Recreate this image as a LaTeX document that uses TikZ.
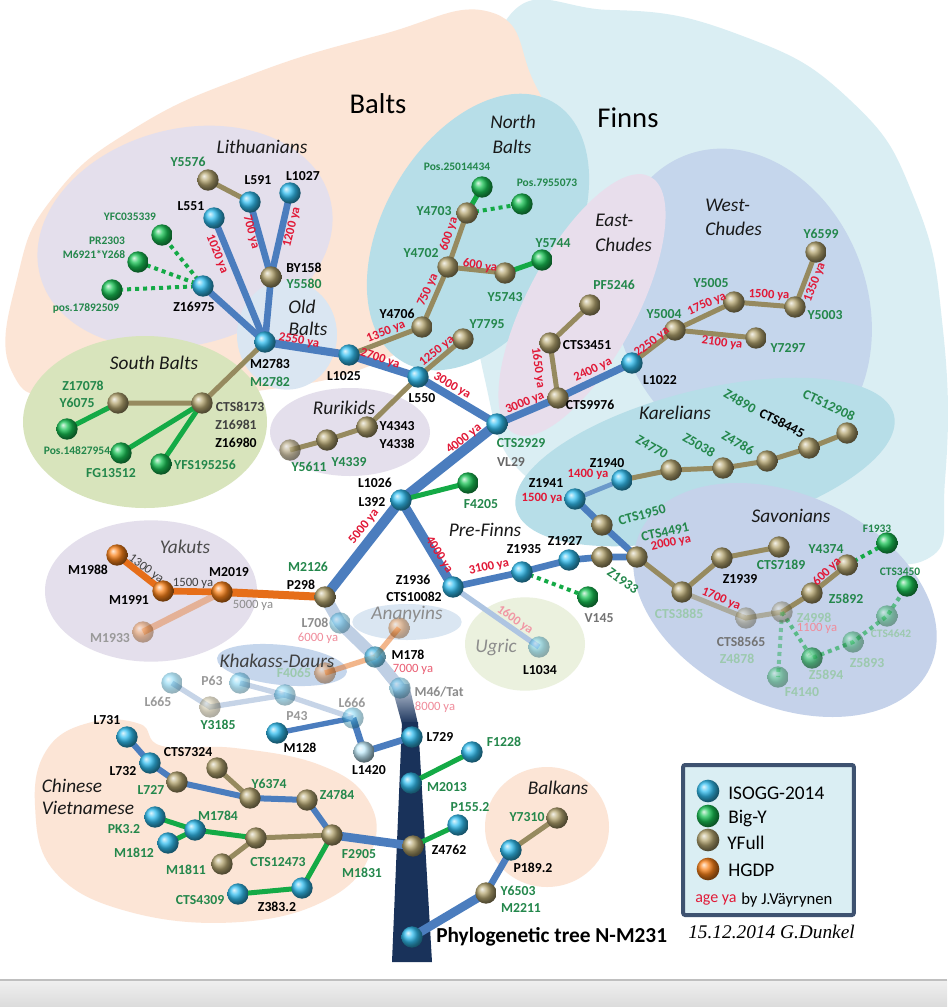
\documentclass[tikz,border=0pt]{standalone}
\usepackage{fontspec}
\setmainfont{Carlito}
\newfontfamily\sigfont{Liberation Serif}
\pgfdeclarelayer{blobs}
\pgfdeclarelayer{edges}
\pgfsetlayers{blobs,edges,main}
\definecolor{isoggc}{RGB}{50,190,240}
\definecolor{bigyc}{RGB}{25,195,85}
\definecolor{yfullc}{RGB}{180,165,112}
\definecolor{hgdpc}{RGB}{250,130,25}
\definecolor{brblue}{RGB}{75,125,190}
\definecolor{olivel}{RGB}{150,138,95}
\definecolor{greenl}{RGB}{20,170,70}
\definecolor{orangel}{RGB}{230,110,25}
\definecolor{labgreen}{RGB}{35,135,75}
\definecolor{agered}{RGB}{225,25,55}
\definecolor{trunkc}{RGB}{25,50,90}
\definecolor{trunklight}{RGB}{195,205,220}
\definecolor{paleblue}{RGB}{175,195,222}
\definecolor{peachc}{RGB}{252,229,214}
\definecolor{finnsc}{RGB}{218,238,243}
\definecolor{lavc}{RGB}{228,223,236}
\definecolor{tealc}{RGB}{183,222,232}
\definecolor{pinkc}{RGB}{232,222,236}
\definecolor{wchc}{RGB}{197,214,236}
\definecolor{savc}{RGB}{197,210,234}
\definecolor{sbaltc}{RGB}{216,228,188}
\definecolor{oldbc}{RGB}{218,230,242}
\definecolor{ugricc}{RGB}{235,241,222}
\definecolor{legborder}{RGB}{62,82,112}
\definecolor{legfill}{RGB}{218,238,243}
\begin{document}
\begin{tikzpicture}[x=0.75pt,y=-0.75pt,
  ball/.style={circle,minimum size=16pt,inner sep=0pt},
  isogg/.style={ball,ball color=isoggc},
  bigy/.style={ball,ball color=bigyc},
  yfull/.style={ball,ball color=yfullc},
  hgdp/.style={ball,ball color=hgdpc},
  faded/.style={opacity=0.45},
  semi/.style={opacity=0.7},
  eblue/.style={draw=brblue,line width=5pt},
  ebluethick/.style={draw=brblue,line width=7pt},
  ebluethin/.style={draw=brblue,line width=3.5pt},
  eolive/.style={draw=olivel,line width=3.75pt},
  egreen/.style={draw=greenl,line width=3.75pt},
  edot/.style={draw=greenl,line width=3pt,dash pattern=on 3pt off 3pt},
  eorange/.style={draw=orangel,line width=5pt},
  lab/.style={font=\fontsize{10.3}{12}\selectfont\bfseries,text=black,inner sep=0pt},
  glab/.style={lab,text=labgreen},
  slab/.style={font=\fontsize{8.6}{10}\selectfont\bfseries,text=labgreen,inner sep=0pt},
  fglab/.style={lab,text=labgreen!45},
  agelab/.style={font=\fontsize{9.5}{11}\selectfont\bfseries,text=agered,inner sep=0pt},
  fagelab/.style={font=\fontsize{9.5}{11}\selectfont,text=agered!50,inner sep=0pt},
  grp/.style={font=\fontsize{14.5}{17}\selectfont\itshape,text=black!90,inner sep=0pt},
  bigtxt/.style={font=\fontsize{21.5}{24}\selectfont,text=black,inner sep=0pt},
  legtext/.style={font=\fontsize{14.5}{17}\selectfont,anchor=west,inner sep=0pt},
]
\useasboundingbox (0,0) rectangle (947,1007);

% ---------------- background regions
\begin{pgfonlayer}{blobs}
\fill[white] (0,0) rectangle (947,1007);
\fill[finnsc] plot[smooth cycle,tension=0.8] coordinates {(500,30) (610,10) (740,35) (850,100) (915,200) (943,330) (945,480) (925,560) (820,540) (640,510) (530,480) (485,380) (478,250)};
\fill[peachc] plot[smooth cycle,tension=0.8] coordinates {(12,372) (18,275) (55,195) (135,128) (250,75) (380,35) (490,12) (532,78) (552,150) (520,260) (400,352) (250,392) (80,398)};
\fill[lavc,rotate around={15:(185,237)}] (185,237) ellipse [x radius=112.5pt,y radius=81pt];
\fill[oldbc] (287,335) ellipse [x radius=37.5pt,y radius=41pt];
\fill[sbaltc] (145,422) ellipse [x radius=91.5pt,y radius=64.5pt];
\fill[tealc,rotate around={60:(478,232)}] (478,232) ellipse [x radius=112.5pt,y radius=71pt];
\fill[wchc,rotate around={20:(742,305)}] (742,305) ellipse [x radius=94pt,y radius=120pt];
\fill[pinkc,rotate around={62:(582,305)}] (582,305) ellipse [x radius=109pt,y radius=41pt];
\fill[tealc,rotate around={14:(705,462)}] (705,462) ellipse [x radius=146pt,y radius=54pt];
\fill[savc,rotate around={-25:(785,600)}] (785,600) ellipse [x radius=120pt,y radius=79pt];
\fill[lavc] (350,432) ellipse [x radius=60pt,y radius=33pt];
\fill[lavc] (151,591) ellipse [x radius=79.5pt,y radius=53pt];
\fill[ugricc] (525,644) ellipse [x radius=45pt,y radius=35pt];
\fill[oldbc] (407,622) ellipse [x radius=41pt,y radius=13.5pt];
\fill[wchc,rotate around={-6:(282,665)}] (282,665) ellipse [x radius=49pt,y radius=15pt];
\fill[peachc] (547,827) ellipse [x radius=46.5pt,y radius=45pt];
\fill[peachc] plot[smooth cycle,tension=0.7] coordinates {(35,805) (48,748) (92,722) (140,724) (162,746) (235,748) (320,765) (368,800) (372,850) (330,898) (240,922) (130,912) (55,872)};
\shade[top color=black!6,bottom color=black!14] (0,980) rectangle (947,1007);
\draw[black!25,line width=1pt] (0,980) -- (947,980);
\end{pgfonlayer}

% ---------------- nodes (balls)
% Lithuanians
\node[yfull] (Y5576) at (208,180) {};
\node[isogg] (L591) at (250,202) {};
\node[isogg] (L1027) at (290,193) {};
\node[isogg] (L551) at (214,218) {};
\node[yfull] (BY158) at (271,277) {};
\node[bigy] (YFC) at (162,235) {};
\node[bigy] (PR2303) at (138,262) {};
\node[bigy] (pos17) at (112,290) {};
\node[isogg] (Z16975) at (203,286) {};
\node[isogg] (M2783) at (265,342) {};
% South Balts
\node[yfull] (CTS8173) at (202,403) {};
\node[yfull] (Z17078) at (118,403) {};
\node[bigy] (Pos148) at (67,429) {};
\node[bigy] (FG13512) at (121,453) {};
\node[bigy] (YFS) at (161,464) {};
% North Balts / Rurikids
\node[isogg] (L1025) at (349,355) {};
\node[isogg] (L550) at (418,377) {};
\node[yfull] (Y4706) at (422,327) {};
\node[yfull] (Y4702) at (448,267) {};
\node[yfull] (Y4703) at (467,213) {};
\node[bigy] (Pos250) at (482,187) {};
\node[bigy] (Pos795) at (522,204) {};
\node[yfull] (Y5743) at (505,273) {};
\node[bigy] (Y5744) at (542,260) {};
\node[yfull] (Y7795) at (463,339) {};
\node[yfull] (Y4343) at (367,427) {};
\node[yfull] (Y4339) at (327,440) {};
\node[yfull,semi] (Y5611) at (290,450) {};
% Finns
\node[isogg] (CTS2929) at (497,424) {};
\node[yfull] (CTS9976) at (558,398) {};
\node[yfull] (CTS3451) at (550,343) {};
\node[yfull] (PF5246) at (590,305) {};
\node[isogg] (L1022) at (632,363) {};
\node[yfull] (Y5004) at (675,330) {};
\node[yfull] (Y5005) at (734,302) {};
\node[yfull] (Y5003) at (795,307) {};
\node[yfull] (Y6599) at (816,252) {};
\node[yfull] (Y7297) at (756,338) {};
\node[isogg] (L392) at (401,500) {};
\node[bigy] (F4205) at (468,483) {};
\node[yfull] (P298) at (325,597) {};
\node[isogg] (Z1936) at (453,587) {};
\node[isogg] (Z1935) at (522,572) {};
\node[isogg] (Z1927) at (569,560) {};
\node[bigy] (V145) at (588,597) {};
\node[isogg,faded] (L1034) at (539,647) {};
\node[yfull] (Z1933) at (602,557) {};
\node[yfull] (CTS4491) at (637,557) {};
\node[yfull] (CTS1950) at (602,525) {};
\node[isogg] (Z1941) at (575,499) {};
\node[isogg] (Z1940) at (622,480) {};
\node[yfull] (Z4770) at (671,470) {};
\node[yfull] (Z5038) at (723,468) {};
\node[yfull] (Z4786) at (767,461) {};
\node[yfull] (CTS8445) at (809,448) {};
\node[yfull] (CTS12908) at (847,433) {};
\node[yfull] (CTS3885) at (682,592) {};
\node[yfull] (Z1939) at (722,558) {};
\node[yfull] (CTS7189) at (779,547) {};
\node[yfull,faded] (CTS8565) at (746,618) {};
\node[yfull,faded] (Z4998) at (782,612) {};
\node[yfull] (Z5892) at (812,593) {};
\node[yfull] (Y4374) at (847,565) {};
\node[bigy] (F1933) at (887,543) {};
\node[bigy,faded] (F4140) at (778,677) {};
\node[bigy,semi] (Z5894) at (812,658) {};
\node[bigy,faded] (Z5893) at (853,642) {};
\node[bigy,faded] (CTS4642) at (887,616) {};
\node[bigy] (CTS3450) at (907,586) {};
% Yakuts
\node[hgdp] (M2019) at (222,592) {};
\node[hgdp] (M1991) at (163,591) {};
\node[hgdp] (M1988) at (117,555) {};
\node[hgdp,faded] (M1933) at (143,632) {};
% lower tree
\node[isogg,faded] (L708) at (340,623) {};
\node[isogg,semi] (M178) at (375,657) {};
\node[isogg,faded] (M46) at (400,688) {};
\node[hgdp,faded] (Anan) at (399,628) {};
\node[hgdp,faded] (F4065) at (325,673) {};
\node[isogg] (L729) at (412,737) {};
\node[isogg] (M2013) at (411,783) {};
\node[isogg] (F1228) at (472,752) {};
\node[yfull] (Z4762) at (413,846) {};
\node[isogg] (P155) at (458,825) {};
\node[isogg] (root) at (412,937) {};
\node[yfull] (Y6503) at (486,893) {};
\node[isogg] (P189) at (511,850) {};
\node[yfull] (Y7310) at (557,818) {};
\node[isogg,faded] (L666) at (353,718) {};
\node[ball,ball color=isoggc!30] (L1420) at (364,752) {};
\node[isogg,faded] (P43) at (285,695) {};
\node[isogg,faded] (P63) at (240,683) {};
\node[isogg,faded] (L665) at (172,683) {};
\node[yfull,faded] (Y3185) at (210,707) {};
\node[isogg] (M128) at (277,733) {};
% Chinese / Vietnamese
\node[isogg] (L731) at (127,737) {};
\node[isogg] (L732) at (150,763) {};
\node[yfull] (L727) at (177,782) {};
\node[yfull] (CTS7324) at (217,768) {};
\node[yfull] (Y6374) at (250,798) {};
\node[yfull] (Z4784) at (307,800) {};
\node[yfull] (F2905) at (332,835) {};
\node[yfull] (CTS12473) at (256,838) {};
\node[yfull] (M1811) at (222,864) {};
\node[isogg] (M1784) at (195,830) {};
\node[isogg] (PK32) at (155,817) {};
\node[isogg] (M1812) at (168,843) {};
\node[isogg] (CTS4309) at (238,894) {};
\node[isogg] (Z3832) at (302,888) {};

% ---------------- connectors
\begin{pgfonlayer}{edges}
% trunk
\shade[top color=trunklight,bottom color=trunkc] (391,684) -- (409,684) -- (418,724) -- (402,724) -- cycle;
\fill[trunkc] (402,722) -- (418,722) -- (432,962) -- (392,962) -- cycle;
\draw[line width=9pt,draw=paleblue,opacity=0.8] (P298.center) -- (L708.center) -- (M178.center) -- (M46.center);
% Lithuanians
\draw[eolive] (Y5576.center) -- (L591.center);
\draw[eblue] (L591.center) -- (BY158.center) -- (M2783.center);
\draw[eblue] (L1027.center) -- (BY158.center);
\draw[eblue] (L551.center) -- (M2783.center);
\draw[eblue] (Z16975.center) -- (M2783.center);
\draw[edot] (Z16975.center) -- (YFC.center);
\draw[edot] (Z16975.center) -- (PR2303.center);
\draw[edot] (Z16975.center) -- (pos17.center);
% South Balts
\draw[eolive] (M2783.center) -- (CTS8173.center) -- (Z17078.center);
\draw[egreen] (Z17078.center) -- (Pos148.center);
\draw[egreen] (CTS8173.center) -- (FG13512.center);
\draw[egreen] (CTS8173.center) -- (YFS.center);
% main Baltic branch
\draw[eblue,line width=6pt] (M2783.center) -- (L1025.center) -- (L550.center) -- (CTS2929.center);
\draw[eolive] (L1025.center) -- (Y4706.center) -- (Y4702.center) -- (Y4703.center);
\draw[egreen] (Y4703.center) -- (Pos250.center);
\draw[edot] (Y4703.center) -- (Pos795.center);
\draw[eolive] (Y4702.center) -- (Y5743.center);
\draw[egreen] (Y5743.center) -- (Y5744.center);
\draw[eolive] (L550.center) -- (Y7795.center);
\draw[eolive] (L550.center) -- (Y4343.center) -- (Y4339.center) -- (Y5611.center);
% Finnic upper
\draw[eblue,line width=5.5pt] (CTS2929.center) -- (CTS9976.center) -- (L1022.center);
\draw[eolive] (CTS9976.center) -- (CTS3451.center) -- (PF5246.center);
\draw[eolive] (L1022.center) -- (Y5004.center) -- (Y5005.center) -- (Y5003.center) -- (Y6599.center);
\draw[eolive] (Y5004.center) -- (Y7297.center);
% central trunk
\draw[eblue,line width=7.5pt] (CTS2929.center) -- (L392.center) -- (P298.center);
\draw[ebluethick] (L392.center) -- (Z1936.center);
\draw[egreen] (L392.center) -- (F4205.center);
\draw[eblue] (Z1936.center) -- (Z1935.center) -- (Z1927.center) -- (Z1933.center) -- (CTS4491.center);
\draw[eblue] (CTS4491.center) -- (CTS1950.center) -- (Z1941.center);
\draw[ebluethin,opacity=0.7] (Z1941.center) -- (Z1940.center);
\draw[draw=brblue!45,line width=4pt] (Z1936.center) -- (L1034.center);
\draw[edot] (Z1935.center) -- (V145.center);
\draw[eolive] (Z1940.center) -- (Z4770.center) -- (Z5038.center) -- (Z4786.center) -- (CTS8445.center) -- (CTS12908.center);
\draw[eolive] (CTS4491.center) -- (CTS3885.center) -- (Z1939.center) -- (CTS7189.center);
\draw[eolive,opacity=0.55] (CTS3885.center) -- (CTS8565.center) -- (Z4998.center);
\draw[eolive] (Z4998.center) -- (Z5892.center) -- (Y4374.center);
\draw[edot] (Y4374.center) -- (F1933.center);
\draw[edot,opacity=0.45] (Z4998.center) -- (F4140.center);
\draw[edot,opacity=0.6] (Z4998.center) -- (Z5894.center) -- (Z5893.center) -- (CTS4642.center) -- (CTS3450.center);
% Yakuts
\draw[eorange,line width=6pt] (P298.center) -- (M2019.center);
\draw[eorange] (M2019.center) -- (M1991.center) -- (M1988.center);
\draw[eorange,opacity=0.4] (M2019.center) -- (M1933.center);
\draw[eorange,line width=4pt,opacity=0.5] (M178.center) -- (Anan.center);
\draw[eorange,line width=4pt,opacity=0.5] (M178.center) -- (F4065.center);
% lower branches
\draw[egreen] (M2013.center) -- (F1228.center);
\draw[egreen] (Z4762.center) -- (P155.center);
\draw[eblue,line width=6.5pt] (F2905.center) -- (Z4762.center);
\draw[eblue,line width=6.5pt] (root.center) -- (Y6503.center);
\draw[eblue] (Y6503.center) -- (P189.center);
\draw[eolive] (P189.center) -- (Y7310.center);
\draw[eblue] (L729.center) -- (L1420.center) -- (L666.center);
\draw[eblue,line width=4pt] (L666.center) -- (M128.center);
\draw[draw=paleblue,line width=4pt,opacity=0.7] (L666.center) -- (P43.center) -- (P63.center);
\draw[draw=paleblue,line width=4pt,opacity=0.7] (P43.center) -- (Y3185.center) -- (L665.center);
% Chinese / Vietnamese
\draw[eblue,line width=4.5pt] (L731.center) -- (L732.center) -- (L727.center) -- (Y6374.center) -- (Z4784.center) -- (F2905.center);
\draw[eolive] (CTS7324.center) -- (Y6374.center);
\draw[eolive] (F2905.center) -- (CTS12473.center) -- (M1811.center);
\draw[egreen] (PK32.center) -- (M1784.center) -- (CTS12473.center);
\draw[egreen] (M1812.center) -- (M1784.center);
\draw[egreen] (F2905.center) -- (Z3832.center) -- (CTS4309.center);
\end{pgfonlayer}

% ---------------- region titles
\node[bigtxt] (gBalts) at (378,104) {Balts};
\node[bigtxt] (gFinns) at (628,118) {Finns};
\node[grp] (gLith) at (262,147) {Lithuanians};
\node[grp] (gOld) at (302,307) {Old};
\node[grp] (gOldB) at (308,329) {Balts};
\node[grp] (gSB) at (154,363) {South Balts};
\node[grp] (gNB1) at (513,122) {North};
\node[grp] (gNB2) at (512,147) {Balts};
\node[grp,anchor=west] (gEC1) at (595,220) {East-};
\node[grp,anchor=west] (gEC2) at (595,245) {Chudes};
\node[grp,anchor=west] (gWC1) at (705,205) {West-};
\node[grp,anchor=west] (gWC2) at (705,229) {Chudes};
\node[grp] (gRur) at (344,408) {Rurikids};
\node[grp] (gKar) at (675,413) {Karelians};
\node[grp] (gSav) at (791,516) {Savonians};
\node[grp] (gPF) at (485,530) {Pre-Finns};
\node[grp,text=black!45] (gUg) at (496,647) {Ugric};
\node[grp,text=black!70] (gYak) at (185,547) {Yakuts};
\node[grp,text=black!45] (gAn) at (407,614) {Ananyins};
\node[grp,text=black!75] (gKD) at (277,661) {Khakass-Daurs};
\node[grp] (gCh1) at (72,786) {Chinese};
\node[grp] (gCh2) at (88,808) {Vietnamese};
\node[grp] (gBalk) at (558,788) {Balkans};

% ---------------- marker labels
\node[glab] (tY5576) at (188,162) {Y5576};
\node[lab] (tL591) at (258,180) {L591};
\node[lab] (tL1027) at (303,176) {L1027};
\node[lab] (tL551) at (191,206) {L551};
\node[slab] (tYFC) at (130,217) {YFC035339};
\node[slab] (tPR) at (107,241) {PR2303};
\node[slab] (tM6921) at (94,254) {M6921*Y268};
\node[slab] (tpos17) at (86,308) {pos.17892509};
\node[lab] (tZ16975) at (194,307) {Z16975};
\node[lab] (tBY158) at (304,268) {BY158};
\node[glab] (tY5580) at (304,284) {Y5580};
\node[lab] (tM2783) at (270,364) {M2783};
\node[glab] (tM2782) at (270,382) {M2782};
\node[glab] (tZ17078) at (83,386) {Z17078};
\node[glab] (tY6075) at (77,403) {Y6075};
\node[slab] (tPos148) at (77,451) {Pos.14827954};
\node[glab] (tFG) at (111,473) {FG13512};
\node[glab] (tYFS) at (205,465) {YFS195256};
\node[lab,text=black!75] (tCTS8173) at (240,407) {CTS8173};
\node[lab,text=black!75] (tZ16981) at (236,425) {Z16981};
\node[lab] (tZ16980) at (236,443) {Z16980};
\node[lab] (tL1025) at (344,376) {L1025};
\node[lab] (tL550) at (422,398) {L550};
\node[lab] (tY4706) at (397,314) {Y4706};
\node[glab] (tY7795) at (487,324) {Y7795};
\node[lab] (tY4343) at (397,426) {Y4343};
\node[lab] (tY4338) at (397,444) {Y4338};
\node[glab] (tY4339) at (349,462) {Y4339};
\node[glab] (tY5611) at (309,467) {Y5611};
\node[slab] (tPos250) at (457,167) {Pos.25014434};
\node[slab] (tPos795) at (547,183) {Pos.7955073};
\node[glab] (tY4703) at (434,211) {Y4703};
\node[glab] (tY4702) at (421,253) {Y4702};
\node[glab] (tY5744) at (553,243) {Y5744};
\node[glab] (tY5743) at (505,297) {Y5743};
\node[glab] (tPF5246) at (614,285) {PF5246};
\node[glab] (tCTS2929) at (521,443) {CTS2929};
\node[lab,text=black!60] (tVL29) at (511,462) {VL29};
\node[lab] (tCTS3451) at (587,345) {CTS3451};
\node[lab] (tCTS9976) at (590,405) {CTS9976};
\node[lab] (tL1022) at (660,380) {L1022};
\node[glab] (tY5004) at (664,314) {Y5004};
\node[glab] (tY5005) at (711,283) {Y5005};
\node[glab] (tY6599) at (821,234) {Y6599};
\node[glab] (tY5003) at (825,315) {Y5003};
\node[glab] (tY7297) at (788,348) {Y7297};
\node[lab] (tL1026) at (375,483) {L1026};
\node[lab] (tL392) at (372,502) {L392};
\node[glab] (tF4205) at (481,504) {F4205};
\node[lab] (tZ1940) at (607,463) {Z1940};
\node[lab] (tZ1941) at (546,483) {Z1941};
\node[glab,rotate=15] (tCTS1950) at (642,515) {CTS1950};
\node[glab,rotate=-30] (tZ4770) at (652,447) {Z4770};
\node[glab,rotate=-30] (tZ5038) at (699,445) {Z5038};
\node[glab,rotate=-30] (tZ4786) at (738,443) {Z4786};
\node[glab,rotate=-30] (tZ4890) at (740,401) {Z4890};
\node[lab,rotate=-27] (tCTS8445) at (782,423) {CTS8445};
\node[glab,rotate=-25] (tCTS12908) at (829,405) {CTS12908};
\node[glab,rotate=-35] (tZ1933) at (623,581) {Z1933};
\node[glab,rotate=12] (tCTS4491) at (665,532) {CTS4491};
\node[lab] (tZ1939) at (740,579) {Z1939};
\node[glab] (tCTS7189) at (781,565) {CTS7189};
\node[glab] (tY4374) at (826,549) {Y4374};
\node[slab] (tF1933) at (877,529) {F1933};
\node[slab] (tCTS3450) at (900,572) {CTS3450};
\node[glab] (tZ5892) at (846,599) {Z5892};
\node[fglab] (tCTS3885) at (679,614) {CTS3885};
\node[lab,text=black!55] (tCTS8565) at (741,642) {CTS8565};
\node[fglab] (tZ4878) at (737,659) {Z4878};
\node[fglab] (tZ4998) at (814,618) {Z4998};
\node[slab,text=labgreen!45] (tCTS4642) at (891,634) {CTS4642};
\node[fglab] (tZ5893) at (867,663) {Z5893};
\node[fglab] (tZ5894) at (826,675) {Z5894};
\node[fglab] (tF4140) at (802,692) {F4140};
\node[lab] (tZ1935) at (524,549) {Z1935};
\node[lab] (tZ1927) at (565,541) {Z1927};
\node[lab] (tZ1936) at (413,580) {Z1936};
\node[lab] (tCTS10082) at (414,597) {CTS10082};
\node[lab,text=black!55] (tV145) at (599,618) {V145};
\node[lab] (tL1034) at (540,670) {L1034};
\node[lab] (tM1988) at (88,570) {M1988};
\node[lab] (tM1991) at (129,600) {M1991};
\node[lab] (tM2019) at (229,572) {M2019};
\node[lab,text=black!40] (tM1933) at (110,638) {M1933};
\node[glab] (tM2126) at (308,567) {M2126};
\node[lab] (tP298) at (301,585) {P298};
\node[lab,text=black!45] (tL708) at (315,623) {L708};
\node[fglab] (tF4065) at (294,673) {F4065};
\node[lab] (tM178) at (408,655) {M178};
\node[lab,text=black!45] (tM46) at (439,692) {M46/Tat};
\node[lab,text=black!40] (tP63) at (212,681) {P63};
\node[lab,text=black!40] (tL665) at (158,702) {L665};
\node[glab] (tY3185) at (218,725) {Y3185};
\node[lab,text=black!40] (tP43) at (297,716) {P43};
\node[lab] (tM128) at (300,748) {M128};
\node[lab,text=black!40] (tL666) at (352,703) {L666};
\node[lab] (tL1420) at (369,770) {L1420};
\node[lab] (tL729) at (440,737) {L729};
\node[glab] (tF1228) at (504,742) {F1228};
\node[glab] (tM2013) at (447,787) {M2013};
\node[glab] (tP155) at (470,807) {P155.2};
\node[lab] (tZ4762) at (449,850) {Z4762};
\node[glab] (tF2905) at (359,854) {F2905};
\node[glab] (tM1831) at (362,873) {M1831};
\node[glab] (tZ4784) at (337,795) {Z4784};
\node[glab] (tY7310) at (527,817) {Y7310};
\node[lab] (tP189) at (533,868) {P189.2};
\node[glab] (tY6503) at (518,891) {Y6503};
\node[glab] (tM2211) at (521,908) {M2211};
\node[lab] (tL731) at (107,720) {L731};
\node[lab] (tL732) at (123,771) {L732};
\node[lab] (tCTS7324) at (188,752) {CTS7324};
\node[glab] (tL727) at (151,790) {L727};
\node[glab] (tY6374) at (269,784) {Y6374};
\node[glab] (tM1784) at (218,816) {M1784};
\node[glab] (tPK32) at (124,829) {PK3.2};
\node[glab] (tM1812) at (134,853) {M1812};
\node[glab] (tM1811) at (186,870) {M1811};
\node[glab] (tCTS12473) at (278,862) {CTS12473};
\node[glab] (tCTS4309) at (200,900) {CTS4309};
\node[lab] (tZ3832) at (277,907) {Z383.2};

% ---------------- ages
\node[agelab,rotate=-68] (a1) at (217,254) {1020 ya};
\node[agelab,rotate=-75] (a2) at (251,232) {700 ya};
\node[agelab,rotate=76] (a3) at (292,227) {1200 ya};
\node[agelab,rotate=-10] (a4) at (299,341) {2550 ya};
\node[agelab,rotate=-18] (a5) at (380,359) {2700 ya};
\node[agelab,rotate=22] (a6) at (386,332) {1350 ya};
\node[agelab,rotate=39] (a7) at (437,351) {1250 ya};
\node[agelab,rotate=-30] (a8) at (452,386) {3000 ya};
\node[agelab,rotate=23] (a9) at (525,403) {3000 ya};
\node[agelab,rotate=26] (a10) at (593,370) {2400 ya};
\node[agelab,rotate=-82] (a11) at (538,368) {1650 ya};
\node[agelab,rotate=38] (a12) at (464,439) {4000 ya};
\node[agelab,rotate=72] (a13) at (449,234) {600 ya};
\node[agelab,rotate=66] (a14) at (428,290) {750 ya};
\node[agelab,rotate=-8] (a15) at (480,266) {600 ya};
\node[agelab,rotate=38] (a16) at (652,342) {2250 ya};
\node[agelab,rotate=24] (a17) at (707,304) {1750 ya};
\node[agelab,rotate=-3] (a18) at (769,295) {1500 ya};
\node[agelab,rotate=69] (a19) at (815,282) {1350 ya};
\node[agelab,rotate=-7] (a20) at (722,343) {2100 ya};
\node[agelab,rotate=52] (a21) at (364,527) {5000 ya};
\node[agelab,rotate=-58] (a22) at (439,555) {4000 ya};
\node[agelab,rotate=12] (a23) at (489,567) {3100 ya};
\node[agelab,rotate=-35,text=agered!45] (a24) at (515,620) {1600 ya};
\node[agelab] (a25) at (588,474) {1400 ya};
\node[agelab] (a26) at (542,498) {1500 ya};
\node[agelab,rotate=12] (a27) at (671,543) {2000 ya};
\node[agelab,rotate=-22] (a28) at (721,599) {1700 ya};
\node[agelab,rotate=45] (a29) at (827,572) {600 ya};
\node[fagelab] (a30) at (817,628) {1100 ya};
\node[fagelab,text=black!75,rotate=-37] (a31) at (146,569) {1300 ya};
\node[fagelab,text=black!75] (a32) at (193,583) {1500 ya};
\node[fagelab,text=black!45] (a33) at (253,605) {5000 ya};
\node[fagelab] (a34) at (318,638) {6000 ya};
\node[fagelab,text=agered!70] (a35) at (413,669) {7000 ya};
\node[fagelab] (a36) at (435,707) {8000 ya};

% ---------------- legend
\node[draw=legborder,line width=3pt,fill=legfill,minimum width=128pt,minimum height=112.5pt,inner sep=0pt,rounded corners=1.5pt] (legend) at (768.5,840) {};
\node[isogg,minimum size=17pt] (lgA) at (708,791) {};
\node[bigy,minimum size=17pt] (lgB) at (708,816) {};
\node[yfull,minimum size=17pt] (lgC) at (708,840) {};
\node[hgdp,minimum size=17pt] (lgD) at (708,869) {};
\node[legtext] (lgtA) at (728,793) {ISOGG-2014};
\node[legtext] (lgtB) at (728,818) {Big-Y};
\node[legtext] (lgtC) at (727,843) {YFull};
\node[legtext] (lgtD) at (728,870) {HGDP};
\node[font=\fontsize{12}{14}\selectfont,text=agered,anchor=west,inner sep=0pt] (lgage) at (695,900) {age ya};
\node[font=\fontsize{12.5}{14}\selectfont,anchor=west,inner sep=0pt] (lgby) at (741,900) {by J.Väyrynen};

% ---------------- title
\node[font=\fontsize{16}{18}\selectfont\bfseries,anchor=west,inner sep=0pt] (title) at (436,937) {Phylogenetic tree N-M231};
\node[font=\sigfont\itshape\fontsize{14.5}{17}\selectfont,anchor=west,inner sep=0pt] (sig) at (688,932) {15.12.2014 G.Dunkel};
\end{tikzpicture}
\end{document}
